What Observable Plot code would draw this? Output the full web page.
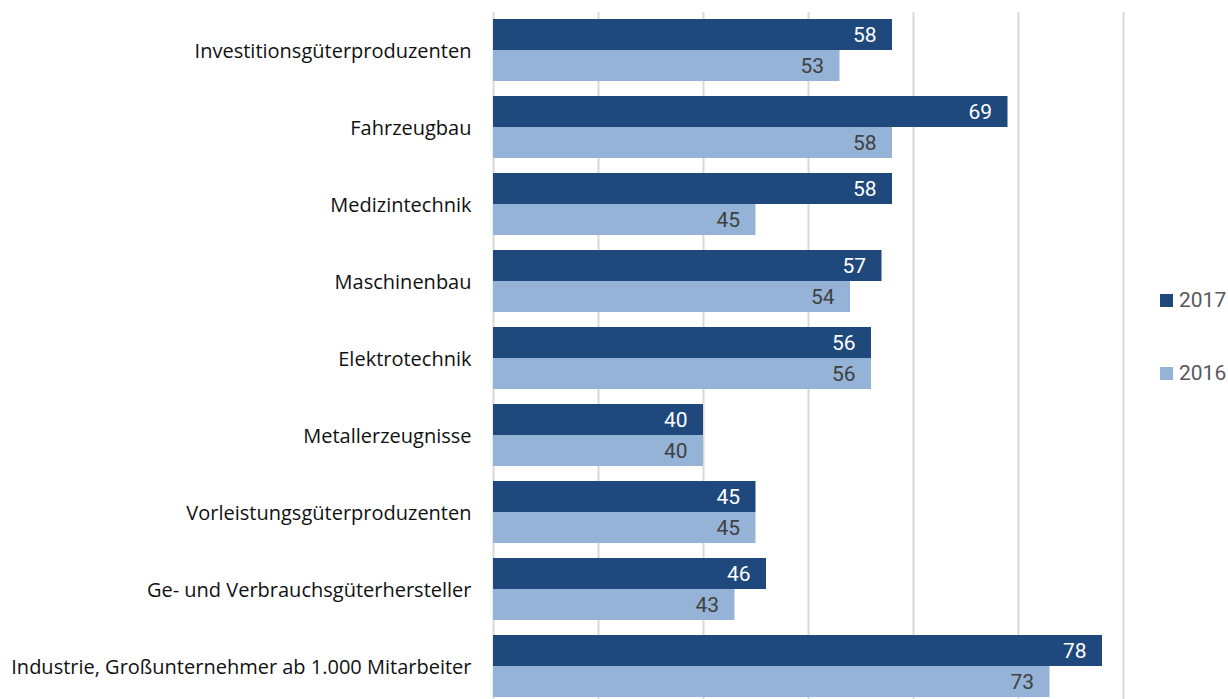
<!DOCTYPE html>
<html>
<head>
<meta charset="utf-8">
<script src="https://cdn.jsdelivr.net/npm/d3@7"></script>
<script src="https://cdn.jsdelivr.net/npm/@observablehq/plot@0.6"></script>
<style>
  html, body { margin: 0; padding: 0; background: #fff; overflow: hidden; }
  #wrap { position: relative; width: 1228px; height: 699px; }
  #legend { position: absolute; left: 1160px; top: 0; font-family: Roboto, sans-serif; }
  .item { position: absolute; left: 0; display: flex; align-items: center; white-space: nowrap; }
  .sw { width: 13px; height: 13px; margin-right: 6px; }
  .lab { font-size: 21px; color: #595959; }
  .yaxis text { font-family: "Open Sans", sans-serif; }
</style>
</head>
<body>
<div id="wrap"><div id="legend"></div></div>
<script>
const categories = [
  "Investitionsgüterproduzenten",
  "Fahrzeugbau",
  "Medizintechnik",
  "Maschinenbau",
  "Elektrotechnik",
  "Metallerzeugnisse",
  "Vorleistungsgüterproduzenten",
  "Ge- und Verbrauchsgüterhersteller",
  "Industrie, Großunternehmer ab 1.000 Mitarbeiter"
];
const values2017 = [58, 69, 58, 57, 56, 40, 45, 46, 78];
const values2016 = [53, 58, 45, 54, 56, 40, 45, 43, 73];
const years = ["2017", "2016"];
const barColors = ["#1F497D", "#95B3D7"];
const labelColors = ["#ffffff", "#404040"];
const xDomain = [20, 80];
const gridTicks = [20, 30, 40, 50, 60, 70, 80];

const d2017 = categories.map((c, i) => ({category: c, value: values2017[i]}));
const d2016 = categories.map((c, i) => ({category: c, value: values2016[i]}));

const chart = Plot.plot({
  width: 1228,
  height: 699,
  marginLeft: 493,
  marginRight: 105,
  marginTop: 12,
  marginBottom: 0,
  style: {fontFamily: "Roboto, sans-serif", background: "transparent"},
  x: {domain: xDomain, clamp: true, axis: null},
  y: {domain: categories, range: [11.5, 704.5], paddingInner: 15 / 77, paddingOuter: 7.5 / 77, label: null},
  marks: [
    Plot.ruleX(gridTicks, {stroke: "#d9d9d9", strokeWidth: 2}),
    Plot.barX(d2017, {x: "value", y: "category", fill: barColors[0], insetBottom: 31}),
    Plot.barX(d2016, {x: "value", y: "category", fill: barColors[1], insetTop: 31}),
    Plot.text(d2017, {x: "value", y: "category", text: d => String(d.value), dy: -15, dx: -16, textAnchor: "end", fill: labelColors[0], fontSize: 21}),
    Plot.text(d2016, {x: "value", y: "category", text: d => String(d.value), dy: 16, dx: -16, textAnchor: "end", fill: labelColors[1], fontSize: 21}),
    Plot.axisY({tickSize: 0, tickPadding: 22, fontSize: 20, dy: 1, color: "#111", label: null, className: "yaxis"})
  ]
});
document.getElementById("wrap").prepend(chart);
chart.style.position = "absolute";
chart.style.left = "0";
chart.style.top = "0";

const legendTops = [288, 361];
const legend = document.getElementById("legend");
years.forEach((y, i) => {
  const item = document.createElement("div");
  item.className = "item";
  item.style.top = legendTops[i] + "px";
  const sw = document.createElement("span");
  sw.className = "sw";
  sw.style.background = barColors[i];
  const lab = document.createElement("span");
  lab.className = "lab";
  lab.textContent = y;
  item.append(sw, lab);
  legend.append(item);
});
</script>
</body>
</html>
